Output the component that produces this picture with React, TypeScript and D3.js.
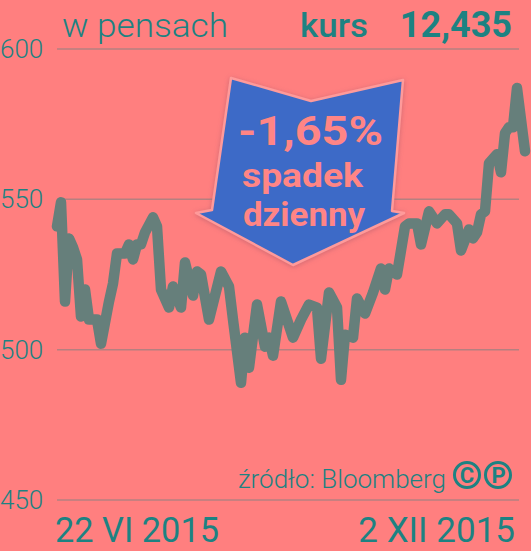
import React from "react";
import * as d3 from "d3";

const W = 531;
const H = 551;

// trading-day index (0 = 22 VI 2015, 117 = 2 XII 2015) and price in pence
const days = [0, 1, 2, 3, 4, 5, 6, 7, 8, 10, 11, 13, 14, 15, 17, 18, 19, 20, 21, 22, 24, 25, 26, 28, 29, 31, 32, 34, 35, 36, 38, 41, 43, 44, 46, 47, 48, 50, 52, 53, 54, 56, 59, 61, 63, 65, 66, 68, 70, 71, 72, 74, 75, 77, 79, 81, 82, 83, 85, 87, 88, 90, 91, 93, 95, 97, 98, 100, 101, 103, 104, 105, 106, 107, 108, 110, 111, 112, 113, 114, 115, 117];
const values = [541, 549, 516, 537, 534, 530, 511, 520, 510, 510, 502, 516, 522, 532, 532, 535, 530, 535, 535, 539, 544, 541, 520, 514, 521, 514, 529, 518, 526, 525, 510, 526, 521, 510, 489, 504, 494, 515, 501, 504, 498, 516, 504, 510, 515, 514, 497, 519, 514, 490, 505, 504, 517, 512, 519, 527, 520, 527, 525, 541, 542, 542, 535, 546, 542, 545, 545, 542, 533, 540, 537, 539, 545, 546, 562, 565, 559, 572, 574, 574, 587, 566];

const yTicks = [600, 550, 500, 450];
const dateLabels = ["22 VI 2015", "2 XII 2015"];
const unitLabel = "w pensach";
const rateLabel = "kurs";
const rateValue = "12,435";
const changeLines = ["-1,65%", "spadek", "dzienny"];
const sourceLabel = "źródło: Bloomberg";

const BG = "#ff7f7f";
const TEAL = "#1d8282";
const LINE = "#667f7b";
const GRID = "#b58080";
const BLUE = "#3d6bc7";
const PINK = "#ff8585";

export default function App() {
  const x = d3.scaleLinear().domain([0, 117]).range([57, 525]);
  const y = d3.scaleLinear().domain([450, 600]).range([500, 49]);
  const pts: [number, number][] = days.map((d, i) => [d, values[i]]);
  const line = d3
    .line<[number, number]>()
    .x((d) => x(d[0]))
    .y((d) => y(d[1]))
    .curve(d3.curveLinear);

  const arrow: [number, number][] = [
    [231, 78],
    [311, 101],
    [403, 80],
    [392, 211],
    [404, 213],
    [293, 265],
    [196, 213],
    [212, 210],
  ];
  const arrowPath = "M" + arrow.map((p) => p.join(",")).join("L") + "Z";

  const font = "Roboto, 'Open Sans', sans-serif";

  return (
    <svg
      width={W}
      height={H}
      style={{ position: "absolute", left: 0, top: 0, background: BG }}
      fontFamily={font}
    >
      <defs>
        <filter id="glow" x="-20%" y="-20%" width="140%" height="140%">
          <feGaussianBlur in="SourceAlpha" stdDeviation="2.5" />
          <feOffset dx="0" dy="1" result="b" />
          <feFlood floodColor="#b05a6a" floodOpacity="0.6" />
          <feComposite in2="b" operator="in" />
          <feMerge>
            <feMergeNode />
            <feMergeNode in="SourceGraphic" />
          </feMerge>
        </filter>
      </defs>
      <rect width={W} height={H} fill={BG} />
      {yTicks.map((t) => (
        <g key={t}>
          <line x1={57} x2={519} y1={y(t)} y2={y(t)} stroke={GRID} strokeWidth={1.5} />
          <text x={0} y={y(t) + 9} fontSize={26} fontWeight={300} fill={TEAL}>
            {t}
          </text>
        </g>
      ))}
      <text x={62} y={37} fontSize={33} fontWeight={300} fill={TEAL} textLength={166} lengthAdjust="spacingAndGlyphs">
        {unitLabel}
      </text>
      <text x={300} y={37} fontSize={34} fontWeight={500} fill={TEAL} textLength={68} lengthAdjust="spacingAndGlyphs">
        {rateLabel}
      </text>
      <text x={512} y={37} fontSize={36} fontWeight={700} fill={TEAL} textAnchor="end">
        {rateValue}
      </text>

      <path
        d={line(pts) || ""}
        fill="none"
        stroke={LINE}
        strokeWidth={10.5}
        strokeLinejoin="round"
        strokeLinecap="round"
      />

      <g filter="url(#glow)">
        <path d={arrowPath} fill={BLUE} stroke="#ff9a9a" strokeWidth={2.5} strokeLinejoin="round" />
      </g>
      <text x={238} y={145} fontSize={40} fontWeight={700} fill={PINK} textLength={145} lengthAdjust="spacingAndGlyphs">
        {changeLines[0]}
      </text>
      <text x={242} y={187} fontSize={34} fontWeight={700} fill={PINK} textLength={121} lengthAdjust="spacingAndGlyphs">
        {changeLines[1]}
      </text>
      <text x={243} y={226} fontSize={34} fontWeight={700} fill={PINK} textLength={122} lengthAdjust="spacingAndGlyphs">
        {changeLines[2]}
      </text>

      <text x={446} y={488} fontSize={26} fontWeight={300} fill={TEAL} textAnchor="end">
        {sourceLabel}
      </text>
      <g fill="none" stroke={TEAL} strokeWidth={3}>
        <circle cx={467} cy={475} r={12.5} />
        <circle cx={498} cy={475} r={12.5} />
      </g>
      <text x={467} y={483} fontSize={22} fontWeight={700} fill={TEAL} textAnchor="middle">
        C
      </text>
      <text x={498.5} y={483} fontSize={22} fontWeight={700} fill={TEAL} textAnchor="middle">
        P
      </text>

      <text x={55} y={542} fontSize={35} fontWeight={400} fill={TEAL} textLength={164} lengthAdjust="spacingAndGlyphs">
        {dateLabels[0]}
      </text>
      <text x={515} y={542} fontSize={35} fontWeight={400} fill={TEAL} textAnchor="end">
        {dateLabels[1]}
      </text>
    </svg>
  );
}
